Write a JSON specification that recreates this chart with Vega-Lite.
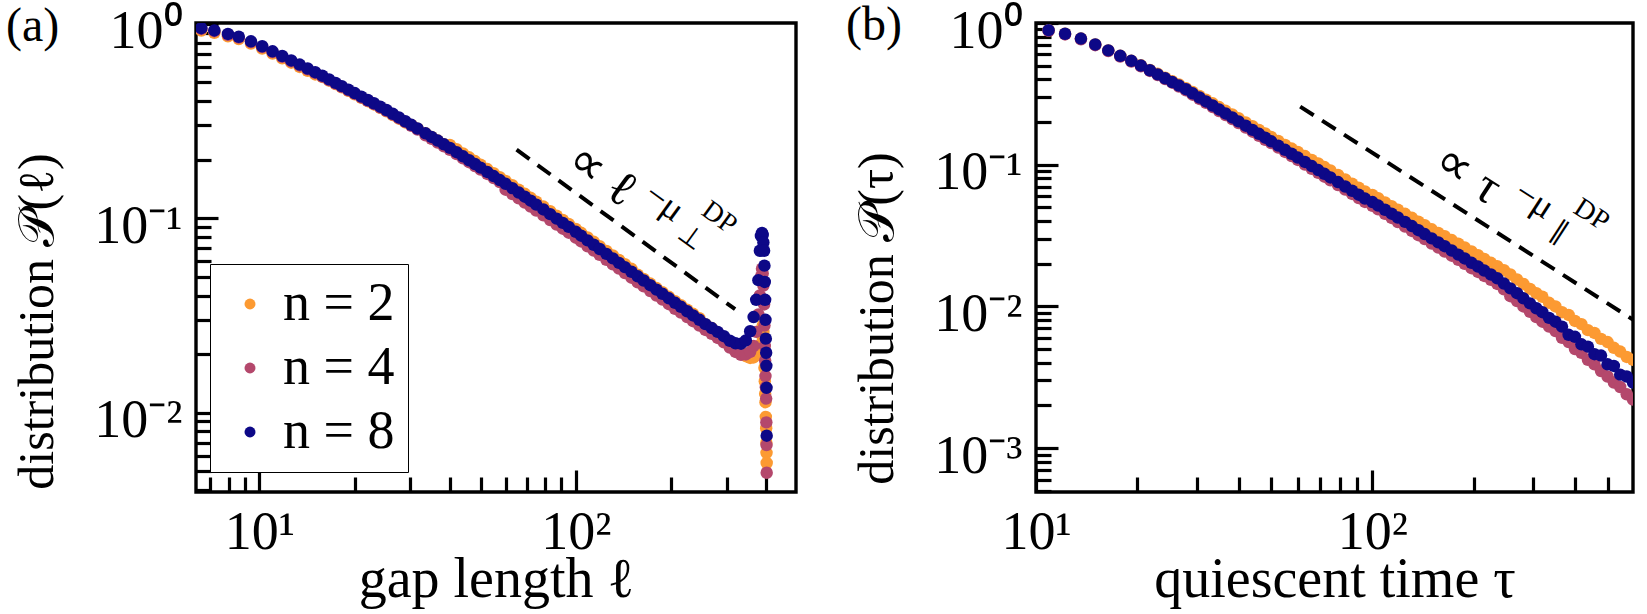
{
"$schema": "https://vega.github.io/schema/vega-lite/v6.json",
"padding": {"left": 4, "top": 0, "right": 0, "bottom": 0},
"config": {
 "font": "Liberation Serif",
 "view": {"stroke": "black", "strokeWidth": 3.4},
 "axis": {"domain": false, "grid": false, "tickColor": "black", "tickWidth": 3.2, "labelColor": "black", "titleColor": "black", "labelFont": "Liberation Serif", "titleFont": "Liberation Serif", "labelFontSize": 54, "titleFontSize": 56, "titleFontWeight": "normal", "labelOverlap": false, "labelFlush": false, "labelBound": false, "labelLimit": 0},
 "legend": {"labelFont": "Liberation Serif", "labelLimit": 0},
 "text": {"font": "Liberation Serif"},
 "title": {"font": "Liberation Serif", "fontWeight": "normal", "fontSize": 48, "color": "black"}
},
"datasets": {
 "A": [
{"x":6.55,"2":0.924,"4":0.941,"8":0.95},{"x":7.2,"2":0.9,"4":0.917,"8":0.925},{"x":7.95,"2":0.863,"4":0.879,"8":0.887},{"x":8.6,"2":0.835,"4":0.85,"8":0.858},{"x":9.4,"2":0.791,"4":0.806,"8":0.813},{"x":10.2,"2":0.746,"4":0.76,"8":0.767},{"x":11,"2":0.703,"4":0.716,"8":0.722},{"x":11.8,"2":0.665,"4":0.677,"8":0.683},{"x":12.6,"2":0.631,"4":0.642,"8":0.648},{"x":13.4,"2":0.6,"4":0.611,"8":0.617},{"x":14.2,"2":0.573,"4":0.584,"8":0.589},{"x":15,"2":0.549,"4":0.559,"8":0.564},{"x":15.8,"2":0.533,"4":0.536,"8":0.541},{"x":16.6,"2":0.511,"4":0.513,"8":0.518},{"x":17.4,"2":0.49,"4":0.493,"8":0.497},{"x":18.2,"2":0.471,"4":0.474,"8":0.478},{"x":19.1,"2":0.452,"4":0.455,"8":0.4587},{"x":20,"2":0.434,"4":0.437,"8":0.4405},{"x":21,"2":0.416,"4":0.418,"8":0.4222},{"x":22,"2":0.4,"4":0.402,"8":0.4056},{"x":23,"2":0.385,"4":0.387,"8":0.3903},{"x":24.1,"2":0.37,"4":0.371,"8":0.3748},{"x":25.2,"2":0.355,"4":0.357,"8":0.3602},{"x":26.4,"2":0.339,"4":0.341,"8":0.3443},{"x":27.6,"2":0.325,"4":0.327,"8":0.3299},{"x":28.9,"2":0.311,"4":0.313,"8":0.3154},{"x":30.2,"2":0.302,"4":0.299,"8":0.3022},{"x":31.6,"2":0.289,"4":0.286,"8":0.2893},{"x":33.5,"2":0.2733,"4":0.267,"8":0.2733},{"x":35,"2":0.2619,"4":0.2559,"8":0.2619},{"x":36.6,"2":0.2508,"4":0.245,"8":0.2508},{"x":38.3,"2":0.24,"4":0.2345,"8":0.24},{"x":40,"2":0.2381,"4":0.2247,"8":0.23},{"x":42,"2":0.2263,"4":0.2136,"8":0.2186},{"x":44,"2":0.2154,"4":0.2033,"8":0.2081},{"x":46,"2":0.2056,"4":0.1941,"8":0.1987},{"x":48,"2":0.1967,"4":0.1856,"8":0.19},{"x":50,"2":0.1884,"4":0.1778,"8":0.182},{"x":52.5,"2":0.179,"4":0.1689,"8":0.1729},{"x":55,"2":0.1705,"4":0.1609,"8":0.1647},{"x":57.5,"2":0.1626,"4":0.1535,"8":0.1571},{"x":60,"2":0.1556,"4":0.1402,"8":0.1503},{"x":63,"2":0.1478,"4":0.1332,"8":0.1428},{"x":66,"2":0.1403,"4":0.1265,"8":0.1356},{"x":69,"2":0.1335,"4":0.1204,"8":0.129},{"x":72,"2":0.1273,"4":0.1148,"8":0.123},{"x":75,"2":0.1215,"4":0.1095,"8":0.1174},{"x":79,"2":0.1148,"4":0.1035,"8":0.1109},{"x":83,"2":0.1086,"4":0.0979,"8":0.1049},{"x":87,"2":0.103,"4":0.0928,"8":0.0995},{"x":91,"2":0.0979,"4":0.0883,"8":0.0946},{"x":95,"2":0.0934,"4":0.0842,"8":0.0902},{"x":100,"2":0.0881,"4":0.0794,"8":0.0851},{"x":104,"2":0.0841,"4":0.0759,"8":0.0813},{"x":109,"2":0.0796,"4":0.0717,"8":0.0769},{"x":114,"2":0.0756,"4":0.0681,"8":0.073},{"x":119,"2":0.0718,"4":0.0648,"8":0.0694},{"x":125,"2":0.0678,"4":0.0611,"8":0.0655},{"x":131,"2":0.0643,"4":0.0579,"8":0.0621},{"x":137,"2":0.061,"4":0.055,"8":0.0589},{"x":143,"2":0.058,"4":0.0522,"8":0.056},{"x":150,"2":0.0549,"4":0.0494,"8":0.053},{"x":157,"2":0.0512,"4":0.0468,"8":0.0502},{"x":164,"2":0.0487,"4":0.0446,"8":0.0478},{"x":172,"2":0.0461,"4":0.0422,"8":0.0452},{"x":180,"2":0.0437,"4":0.04,"8":0.0429},{"x":188,"2":0.0416,"4":0.0381,"8":0.0408},{"x":197,"2":0.0394,"4":0.0361,"8":0.0387},{"x":206,"2":0.0374,"4":0.0342,"8":0.0367},{"x":215,"2":0.0357,"4":0.0327,"8":0.035},{"x":225,"2":0.0338,"4":0.031,"8":0.0332},{"x":235,"2":0.0322,"4":0.0295,"8":0.0316},{"x":246,"2":0.0306,"4":0.028,"8":0.03},{"x":257,"2":0.0285,"4":0.0266,"8":0.0285},{"x":269,"2":0.0272,"4":0.0254,"8":0.0272},{"x":281,"2":0.0258,"4":0.0242,"8":0.026},{"x":294,"2":0.0243,"4":0.023,"8":0.0247},{"x":307,"2":0.0228,"4":0.0216,"8":0.0234},{"x":320,"2":0.0214,"4":0.0205,"8":0.0227},{"x":333,"2":0.0203,"4":0.0198,"8":0.0226},{"x":345,"2":0.0195,"4":0.0199,"8":0.0235},{"x":356,"2":0.0191,"4":0.0205,"8":0.0262},{"x":365,"2":0.0192,"4":0.022,"8":0.031},{"x":372,"2":0.0198,"4":0.026,"8":0.038},{"x":378,"2":0.0205,"4":0.032,"8":0.048},{"x":382,"2":0.0212,"4":0.04,"8":0.068},{"x":385,"2":0.0225,"4":0.05,"8":0.081},{"x":388,"2":0.025,"4":0.055,"8":0.084},{"x":390,"2":0.028,"4":0.052,"8":0.082},{"x":392,"2":0.026,"4":0.045,"8":0.075},{"x":394,"2":0.02,"4":0.036,"8":0.068},{"x":395,"2":0.017,"4":0.028,"8":0.057},{"x":396,"2":0.0145,"4":0.022,"8":0.047},{"x":397,"2":0.0125,"4":0.0185,"8":0.038},{"x":398,"2":0.0113,"4":0.0154,"8":0.03},{"x":399,"2":0.0095,"4":0.0135,"8":0.024},{"x":400,"2":0.0083,"4":0.0118,"8":0.0203},{"x":400.5,"2":0.007,"4":0.0089,"8":0.0174},{"x":401,"2":0.0062,"4":0.0068,"8":0.0134},{"x":401.5,"2":0.0055,"4":0.0049,"8":0.0076}
 ],
 "B": [
{"x":10.9,"2":0.89,"4":0.88,"8":0.89},{"x":12.2,"2":0.84,"4":0.83,"8":0.84},{"x":13.6,"2":0.777,"4":0.768,"8":0.777},{"x":15,"2":0.705,"4":0.697,"8":0.705},{"x":16.4,"2":0.641,"4":0.634,"8":0.641},{"x":17.8,"2":0.587,"4":0.58,"8":0.587},{"x":19.2,"2":0.541,"4":0.535,"8":0.541},{"x":20.5,"2":0.503,"4":0.495,"8":0.501},{"x":21.8,"2":0.467,"4":0.459,"8":0.464},{"x":23,"2":0.438,"4":0.429,"8":0.434},{"x":24.2,"2":0.411,"4":0.402,"8":0.407},{"x":25.4,"2":0.388,"4":0.379,"8":0.383},{"x":26.6,"2":0.368,"4":0.356,"8":0.362},{"x":27.9,"2":0.347,"4":0.335,"8":0.341},{"x":29.2,"2":0.326,"4":0.312,"8":0.319},{"x":30.6,"2":0.306,"4":0.291,"8":0.298},{"x":32,"2":0.288,"4":0.273,"8":0.2795},{"x":33.5,"2":0.271,"4":0.255,"8":0.2616},{"x":35,"2":0.255,"4":0.239,"8":0.2454},{"x":36.6,"2":0.24,"4":0.224,"8":0.23},{"x":38.3,"2":0.226,"4":0.21,"8":0.2155},{"x":40,"2":0.213,"4":0.197,"8":0.2022},{"x":42,"2":0.199,"4":0.183,"8":0.1884},{"x":44,"2":0.187,"4":0.171,"8":0.1761},{"x":46,"2":0.176,"4":0.16,"8":0.1651},{"x":48,"2":0.166,"4":0.15,"8":0.1552},{"x":50,"2":0.157,"4":0.142,"8":0.1463},{"x":52.5,"2":0.147,"4":0.132,"8":0.1363},{"x":55,"2":0.138,"4":0.123,"8":0.1274},{"x":57.5,"2":0.13,"4":0.115,"8":0.1195},{"x":60,"2":0.123,"4":0.108,"8":0.1123},{"x":63,"2":0.115,"4":0.1003,"8":0.1046},{"x":66,"2":0.108,"4":0.0936,"8":0.0978},{"x":69,"2":0.102,"4":0.0877,"8":0.0917},{"x":72,"2":0.0962,"4":0.0823,"8":0.0862},{"x":75,"2":0.091,"4":0.0775,"8":0.0813},{"x":79,"2":0.0846,"4":0.0718,"8":0.0754},{"x":83,"2":0.0788,"4":0.0667,"8":0.0702},{"x":87,"2":0.0735,"4":0.0622,"8":0.0655},{"x":91,"2":0.0689,"4":0.0582,"8":0.0614},{"x":95,"2":0.0648,"4":0.0546,"8":0.0577},{"x":100,"2":0.0612,"4":0.0513,"8":0.0545},{"x":104,"2":0.058,"4":0.0484,"8":0.0515},{"x":109,"2":0.0542,"4":0.045,"8":0.0481},{"x":114,"2":0.051,"4":0.0421,"8":0.0451},{"x":119,"2":0.0481,"4":0.0394,"8":0.0424},{"x":125,"2":0.045,"4":0.0366,"8":0.0395},{"x":131,"2":0.0422,"4":0.0341,"8":0.0369},{"x":137,"2":0.0396,"4":0.0318,"8":0.0345},{"x":143,"2":0.0374,"4":0.0299,"8":0.0324},{"x":150,"2":0.035,"4":0.0278,"8":0.0302},{"x":157,"2":0.033,"4":0.026,"8":0.0283},{"x":164,"2":0.0313,"4":0.0244,"8":0.0266},{"x":172,"2":0.0294,"4":0.0228,"8":0.0248},{"x":180,"2":0.0277,"4":0.0213,"8":0.0232},{"x":188,"2":0.0261,"4":0.02,"8":0.0218},{"x":197,"2":0.0244,"4":0.0186,"8":0.0203},{"x":206,"2":0.023,"4":0.0175,"8":0.0191},{"x":215,"2":0.0216,"4":0.0164,"8":0.0179},{"x":225,"2":0.0203,"4":0.0154,"8":0.0168},{"x":235,"2":0.0192,"4":0.0144,"8":0.0158},{"x":246,"2":0.018,"4":0.0132,"8":0.0145},{"x":257,"2":0.0168,"4":0.0118,"8":0.0134},{"x":269,"2":0.0155,"4":0.0109,"8":0.0124},{"x":281,"2":0.0144,"4":0.01,"8":0.0114},{"x":294,"2":0.0133,"4":0.00915,"8":0.0105},{"x":307,"2":0.0124,"4":0.0084,"8":0.0097},{"x":320,"2":0.0117,"4":0.0078,"8":0.0091},{"x":335,"2":0.0106,"4":0.0072,"8":0.0083},{"x":350,"2":0.01,"4":0.0067,"8":0.0078},{"x":366,"2":0.0091,"4":0.006,"8":0.0072},{"x":383,"2":0.0087,"4":0.0056,"8":0.0063},{"x":400,"2":0.0079,"4":0.005,"8":0.0061},{"x":418,"2":0.0075,"4":0.0047,"8":0.0054},{"x":437,"2":0.0068,"4":0.0042,"8":0.0052},{"x":457,"2":0.0065,"4":0.0039,"8":0.0046},{"x":478,"2":0.0059,"4":0.0035,"8":0.0045},{"x":500,"2":0.0056,"4":0.0032,"8":0.0039},{"x":522,"2":0.0051,"4":0.0029,"8":0.0038},{"x":545,"2":0.0048,"4":0.0027,"8":0.0033},{"x":570,"2":0.0044,"4":0.0024,"8":0.0032},{"x":595,"2":0.0042,"4":0.0022,"8":0.0029}
 ],
 "dash": [
  {"p":"a","x":65,"y":0.225},{"p":"a","x":319,"y":0.034},
  {"p":"b","x":61,"y":0.257},{"p":"b","x":600,"y":0.00796}
 ],
 "ann": [
  {"p":"a","k":"m","x":120.9,"y":0.167,"t":"∝ ℓ"},
  {"p":"a","k":"s","x":190.6,"y":0.1208,"t":"−μ"},
  {"p":"a","k":"ss","x":284,"y":0.1004,"t":"DP"},
  {"p":"a","k":"ss","x":230,"y":0.0793,"t":"⊥"},
  {"p":"b","k":"m","x":192.1,"y":0.0857,"t":"∝ τ"},
  {"p":"b","k":"s","x":303,"y":0.0564,"t":"−μ"},
  {"p":"b","k":"ss","x":447.6,"y":0.0442,"t":"DP"},
  {"p":"b","k":"ss","x":360,"y":0.0337,"t":"∥"}
 ]
},
"resolve": {"scale": {"x": "independent", "y": "independent", "color": "independent"}, "legend": {"color": "independent"}},
"spacing": 46,
"hconcat": [
 {
  "width": 600, "height": 469,
  "title": {"text": "(a)", "anchor": "start", "frame": "bounds", "dx": -6, "dy": 46, "offset": 0},
  "encoding": {
   "x": {"field": "x", "type": "quantitative",
     "scale": {"type": "log", "domain": [6.3, 497], "nice": false},
     "axis": {"values": [7,8,9,10,20,30,40,50,60,70,80,90,100,200,300,400],
       "labelExpr": "datum.value == 10 ? '10¹' : datum.value == 100 ? '10²' : ''",
       "tickSize": {"condition": {"test": "datum.value == 10 || datum.value == 100", "value": -22}, "value": -15},
       "labelPadding": 35, "title": "gap length ℓ", "titleY": 104, "titleBaseline": "alphabetic"}},
   "y": {"field": "y", "type": "quantitative",
     "scale": {"type": "log", "domain": [0.0039, 1.01], "nice": false},
     "axis": {"values": [0.004,0.005,0.006,0.007,0.008,0.009,0.01,0.02,0.03,0.04,0.05,0.06,0.07,0.08,0.09,0.1,0.2,0.3,0.4,0.5,0.6,0.7,0.8,0.9,1],
       "labelExpr": "datum.value == 1 ? '10⁰' : datum.value == 0.1 ? '10⁻¹' : datum.value == 0.01 ? '10⁻²' : ''",
       "tickSize": {"condition": {"test": "datum.value == 1 || datum.value == 0.1 || datum.value == 0.01", "value": -22}, "value": -15},
       "labelPadding": 36, "labelOffset": 8, "title": "distribution 𝒫(ℓ)", "titleFontSize": 50, "titleX": -144, "titleY": 298, "titleBaseline": "alphabetic"}}
  },
  "layer": [
   {"data": {"name": "A"}, "transform": [{"fold": ["2","4","8"], "as": ["n","y"]}],
    "mark": {"type": "circle", "size": 155, "opacity": 1, "clip": true},
    "encoding": {
     "color": {"field": "n", "type": "nominal", "scale": {"domain": ["2","4","8"], "range": ["#FC9A32","#B4486C","#0D0887"]},
       "legend": {"orient": "none", "legendX": 14, "legendY": 241, "title": null, "direction": "vertical",
         "labelExpr": "'n = ' + datum.label", "labelFontSize": 54, "labelColor": "black",
         "symbolType": "circle", "symbolSize": 120, "symbolStrokeWidth": 0, "symbolOpacity": 1, "labelOffset": 6, "rowPadding": 10,
         "padding": 13, "strokeColor": "black", "fillColor": "white", "cornerRadius": 0}},
     "order": {"field": "n", "type": "nominal", "sort": "ascending"}}},
   {"data": {"name": "dash"}, "transform": [{"filter": "datum.p == 'a'"}],
    "mark": {"type": "line", "color": "black", "strokeWidth": 4, "strokeDash": [16, 10], "clip": true}, "encoding": {}},
   {"data": {"name": "ann"}, "transform": [{"filter": "datum.p == 'a' && datum.k == 'm'"}],
    "mark": {"type": "text", "angle": 36, "fontSize": 50, "align": "center", "baseline": "middle", "color": "black"},
    "encoding": {"text": {"field": "t"}}},
   {"data": {"name": "ann"}, "transform": [{"filter": "datum.p == 'a' && datum.k == 's'"}],
    "mark": {"type": "text", "angle": 36, "fontSize": 36, "align": "center", "baseline": "middle", "color": "black"},
    "encoding": {"text": {"field": "t"}}},
   {"data": {"name": "ann"}, "transform": [{"filter": "datum.p == 'a' && datum.k == 'ss'"}],
    "mark": {"type": "text", "angle": 36, "fontSize": 28, "align": "center", "baseline": "middle", "color": "black"},
    "encoding": {"text": {"field": "t"}}}
  ]
 },
 {
  "width": 597, "height": 469,
  "title": {"text": "(b)", "anchor": "start", "frame": "bounds", "dx": -6, "dy": 46, "offset": 0},
  "encoding": {
   "x": {"field": "x", "type": "quantitative",
     "scale": {"type": "log", "domain": [10, 595], "nice": false},
     "axis": {"values": [10,20,30,40,50,60,70,80,90,100,200,300,400,500],
       "labelExpr": "datum.value == 10 ? '10¹' : datum.value == 100 ? '10²' : ''",
       "tickSize": {"condition": {"test": "datum.value == 10 || datum.value == 100", "value": -22}, "value": -15},
       "labelPadding": 35, "title": "quiescent time τ", "titleY": 104, "titleBaseline": "alphabetic"}},
   "y": {"field": "y", "type": "quantitative",
     "scale": {"type": "log", "domain": [0.00049, 1.0], "nice": false},
     "axis": {"values": [0.0005,0.0006,0.0007,0.0008,0.0009,0.001,0.002,0.003,0.004,0.005,0.006,0.007,0.008,0.009,0.01,0.02,0.03,0.04,0.05,0.06,0.07,0.08,0.09,0.1,0.2,0.3,0.4,0.5,0.6,0.7,0.8,0.9,1],
       "labelExpr": "datum.value == 1 ? '10⁰' : datum.value == 0.1 ? '10⁻¹' : datum.value == 0.01 ? '10⁻²' : datum.value == 0.001 ? '10⁻³' : ''",
       "tickSize": {"condition": {"test": "datum.value == 1 || datum.value == 0.1 || datum.value == 0.01 || datum.value == 0.001", "value": -22}, "value": -15},
       "labelPadding": 36, "labelOffset": 8, "title": "distribution 𝒫(τ)", "titleFontSize": 50, "titleX": -144, "titleY": 295, "titleBaseline": "alphabetic"}}
  },
  "layer": [
   {"data": {"name": "B"}, "transform": [{"fold": ["2","4","8"], "as": ["n","y"]}],
    "mark": {"type": "circle", "size": 155, "opacity": 1, "clip": true},
    "encoding": {
     "color": {"field": "n", "type": "nominal", "scale": {"domain": ["2","4","8"], "range": ["#FC9A32","#B4486C","#0D0887"]}, "legend": null},
     "order": {"field": "n", "type": "nominal", "sort": "ascending"}}},
   {"data": {"name": "dash"}, "transform": [{"filter": "datum.p == 'b'"}],
    "mark": {"type": "line", "color": "black", "strokeWidth": 4, "strokeDash": [16, 10], "clip": true}, "encoding": {}},
   {"data": {"name": "ann"}, "transform": [{"filter": "datum.p == 'b' && datum.k == 'm'"}],
    "mark": {"type": "text", "angle": 33, "fontSize": 50, "align": "center", "baseline": "middle", "color": "black"},
    "encoding": {"text": {"field": "t"}}},
   {"data": {"name": "ann"}, "transform": [{"filter": "datum.p == 'b' && datum.k == 's'"}],
    "mark": {"type": "text", "angle": 33, "fontSize": 36, "align": "center", "baseline": "middle", "color": "black"},
    "encoding": {"text": {"field": "t"}}},
   {"data": {"name": "ann"}, "transform": [{"filter": "datum.p == 'b' && datum.k == 'ss'"}],
    "mark": {"type": "text", "angle": 33, "fontSize": 28, "align": "center", "baseline": "middle", "color": "black"},
    "encoding": {"text": {"field": "t"}}}
  ]
 }
]
}
